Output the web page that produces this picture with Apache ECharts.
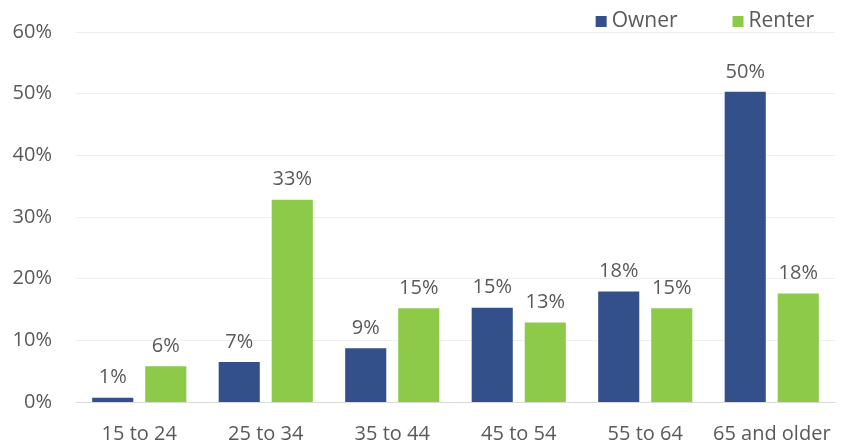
<!DOCTYPE html>
<html><head><meta charset="utf-8">
<script src="https://cdn.jsdelivr.net/npm/echarts@6/dist/echarts.min.js"></script>
<style>html,body{margin:0;padding:0;background:#fff}#c{width:855px;height:447px}</style>
</head><body><div id="c"></div>
<script>
const categories = ['15 to 24','25 to 34','35 to 44','45 to 54','55 to 64','65 and older'];
const owner = [0.7, 6.5, 8.7, 15.3, 17.9, 50.3];
const renter = [5.8, 32.8, 15.2, 12.9, 15.2, 17.6];
const yTicks = [0,10,20,30,40,50,60];
const font = '"Open Sans", "Noto Sans", sans-serif';
const txt = '#595959';
const chart = echarts.init(document.getElementById('c'));
const lbl = {show:true, position:'top', distance:10, color:txt, fontFamily:font, fontSize:20,
  formatter: p => Math.round(p.value) + '%'};
chart.setOption({
  animation:false,
  grid:{left:76, right:20, top:32, bottom:45, containLabel:false},
  legend:{right:36, top:6, itemWidth:11, itemHeight:11, itemGap:55, icon:'rect',
    textStyle:{color:txt, fontFamily:font, fontSize:21}},
  xAxis:{type:'category', data:categories,
    axisLine:{lineStyle:{color:'#d9d9d9'}}, axisTick:{show:false},
    axisLabel:{color:txt, fontFamily:font, fontSize:20, margin:22, interval:0}},
  yAxis:{type:'value', min:yTicks[0], max:yTicks[yTicks.length-1], interval:10,
    axisLine:{show:false}, axisTick:{show:false},
    splitLine:{lineStyle:{color:'#efefef'}},
    axisLabel:{color:txt, fontFamily:font, fontSize:20, margin:24, formatter: v => v + '%'}},
  series:[
    {name:'Owner', type:'bar', data:owner, itemStyle:{color:'#34508a'}, barWidth:'32.5%', barGap:'29%', label:lbl},
    {name:'Renter', type:'bar', data:renter, itemStyle:{color:'#8dca4a'}, barWidth:'32.5%', label:lbl}
  ]
});
</script></body></html>
